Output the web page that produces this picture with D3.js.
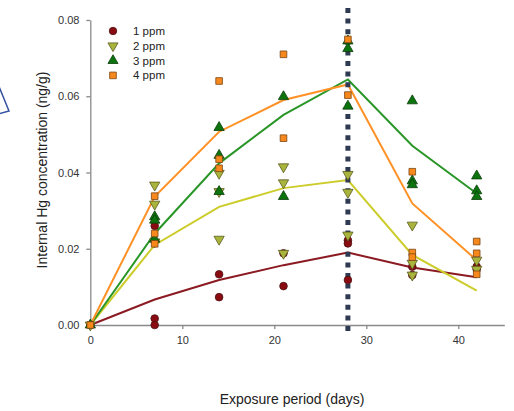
<!DOCTYPE html>
<html>
<head>
<meta charset="utf-8">
<script src="https://cdn.jsdelivr.net/npm/d3@7"></script>
<style>
  body { margin: 0; background: #fff; }
  svg { display: block; font-family: "Liberation Sans", Arial, sans-serif; }
</style>
</head>
<body>
<div id="chart"></div>
<script>
// sampling days and fitted lines
const days = [0, 7, 14, 21, 28, 35, 42];
const line1 = [0, 0.0067, 0.0118, 0.0157, 0.019, 0.0151, 0.0125];
const line2 = [0, 0.021, 0.031, 0.0359, 0.038, 0.0184, 0.009];
const line3 = [0, 0.024, 0.0424, 0.0551, 0.0644, 0.047, 0.0345];
const line4 = [0, 0.0337, 0.0507, 0.059, 0.0631, 0.0319, 0.017];

// replicate measurements [day, value]
const pts1 = [[0,0],[7,0.026],[7,0.0017],[7,0],[14,0.0133],[14,0.0073],[21,0.0188],[21,0.0102],
    [28,0.0222],[28,0.0214],[28,0.0118],[35,0.0153],[35,0.0131],[42,0.0153],[42,0.0146]];
const pts2 = [[0,0],[7,0.0367],[7,0.0317],[7,0.0218],[14,0.0398],[14,0.035],[14,0.0225],
    [21,0.0415],[21,0.0373],[21,0.0188],[28,0.0395],[28,0.0348],[28,0.0236],
    [35,0.0262],[35,0.0162],[35,0.0131],[42,0.017],[42,0.0146]];
const pts3 = [[0,0],[7,0.0284],[7,0.0275],[7,0.0225],[14,0.0518],[14,0.0445],[14,0.035],
    [21,0.0599],[21,0.0337],[28,0.0745],[28,0.0725],[28,0.0574],
    [35,0.0588],[35,0.0378],[35,0.0368],[42,0.0391],[42,0.0352],[42,0.0337]];
const pts4 = [[0,0],[7,0.0338],[7,0.024],[7,0.0213],[14,0.064],[14,0.0435],[14,0.0411],
    [21,0.071],[21,0.049],[28,0.0749],[28,0.0603],[35,0.0402],[35,0.019],[35,0.0178],
    [42,0.0219],[42,0.0188],[42,0.0133]];

const seriesNames = ["1 ppm", "2 ppm", "3 ppm", "4 ppm"];
const xTicks = [0, 10, 20, 30, 40];
const yTicks = [0, 0.02, 0.04, 0.06, 0.08];
const markDay = 28;

const series = [
    {name: seriesNames[0], line: line1, pts: pts1, sym: d3.symbolCircle, rot: 0, fill: "#8a0c12", stroke: "#4a1010", lineCol: "#8b1a22"},
    {name: seriesNames[1], line: line2, pts: pts2, sym: d3.symbolTriangle, rot: 180, fill: "#a9b43c", stroke: "#5a5a20", lineCol: "#cccc2a"},
    {name: seriesNames[2], line: line3, pts: pts3, sym: d3.symbolTriangle, rot: 0, fill: "#0d730d", stroke: "#0a3f0a", lineCol: "#2a9628"},
    {name: seriesNames[3], line: line4, pts: pts4, sym: d3.symbolSquare, rot: 0, fill: "#f7891c", stroke: "#7a4412", lineCol: "#ff9126"}
];

const W = 514, H = 411;
const svg = d3.select("#chart").append("svg").attr("width", W).attr("height", H);

const x = d3.scaleLinear().domain([0, 45]).range([90.3, 504.3]);
const y = d3.scaleLinear().domain([0, 0.08]).range([325, 20]);

// stray arrow outline at the left edge
svg.append("path")
    .attr("d", "M-2,84 L9,111 L-2,114")
    .attr("fill", "none")
    .attr("stroke", "#3553a0")
    .attr("stroke-width", 1.5);

// axes
const xAxis = svg.append("g")
    .attr("transform", `translate(0,${y(0)})`)
    .call(d3.axisBottom(x).tickValues(xTicks).tickFormat(d3.format("d")).tickSize(4).tickSizeOuter(0));
const yAxis = svg.append("g")
    .attr("transform", `translate(${x(0)},0)`)
    .call(d3.axisLeft(y).tickValues(yTicks).tickFormat(d3.format(".2f")).tickSize(4).tickSizeOuter(0));

[xAxis, yAxis].forEach(g => {
    g.selectAll("path, line").attr("stroke", "#8a8a8a").attr("stroke-width", 1.3);
    g.selectAll("text").attr("fill", "#333").style("font-size", "11px");
});
xAxis.selectAll("text").attr("dy", "1.05em");
yAxis.selectAll("text").attr("dx", "-0.35em");

// axis titles
svg.append("text")
    .attr("x", 292).attr("y", 404)
    .attr("text-anchor", "middle")
    .style("font-size", "14px").attr("fill", "#222")
    .text("Exposure period (days)");
svg.append("text")
    .attr("transform", "translate(47,170) rotate(-90)")
    .attr("text-anchor", "middle")
    .style("font-size", "14px").attr("fill", "#222")
    .text("Internal Hg concentration (ng/g)");

// fitted lines
const line = d3.line().x((d, i) => x(days[i])).y(d => y(d));
series.forEach(s => {
    svg.append("path")
        .datum(s.line)
        .attr("d", line)
        .attr("fill", "none")
        .attr("stroke", s.lineCol)
        .attr("stroke-width", 2);
});

// day 28 marker line
svg.append("line")
    .attr("x1", x(markDay)).attr("x2", x(markDay))
    .attr("y1", 8).attr("y2", 333)
    .attr("stroke", "#2e3a52")
    .attr("stroke-width", 5)
    .attr("stroke-dasharray", "5,5.6");

// replicate points
series.forEach(s => {
    const sym = d3.symbol().type(s.sym).size(s.sym === d3.symbolSquare ? 44 : 46);
    svg.append("g").selectAll("path")
        .data(s.pts)
        .enter()
        .append("path")
        .attr("d", sym)
        .attr("transform", d => `translate(${x(d[0])},${y(d[1])}) rotate(${s.rot})`)
        .attr("fill", s.fill)
        .attr("stroke", s.stroke)
        .attr("stroke-width", 0.8);
});

// legend
const legend = svg.append("g").attr("transform", "translate(113,31)");
series.forEach((s, i) => {
    const row = legend.append("g").attr("transform", `translate(0,${i * 14.8})`);
    row.append("path")
        .attr("d", d3.symbol().type(s.sym).size(44))
        .attr("transform", `rotate(${s.rot})`)
        .attr("fill", s.fill)
        .attr("stroke", s.stroke)
        .attr("stroke-width", 0.8);
    row.append("text")
        .attr("x", 20).attr("y", 4)
        .style("font-size", "11.5px").attr("fill", "#222")
        .text(s.name);
});
</script>
</body>
</html>
